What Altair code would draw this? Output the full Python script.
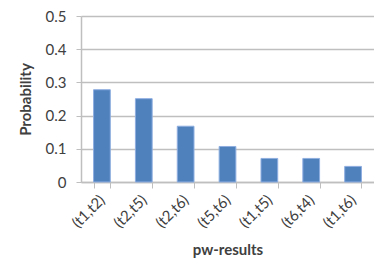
import altair as alt
import pandas as pd

categories = ["(t1,t2)", "(t2,t5)", "(t2,t6)", "(t5,t6)", "(t1,t5)", "(t6,t4)", "(t1,t6)"]
values = [0.278, 0.251, 0.168, 0.107, 0.071, 0.071, 0.047]

df = pd.DataFrame({"pair": categories, "prob": values})

FONT = "Lato"
TXT = "#404040"
GRID = "#bfbfbf"

chart = alt.Chart(df).mark_bar(
    color="#4f81bd", stroke="#8eaee0", strokeWidth=1
).encode(
    x=alt.X("pair:N", sort=categories,
            scale=alt.Scale(paddingInner=0.6, paddingOuter=0.3),
            axis=alt.Axis(title="pw-results", labelAngle=-45, labelAlign="right",
                          labelBaseline="middle", labelPadding=9, tickSize=6,
                          tickBand="extent", tickColor=GRID, domainColor=GRID,
                          domainWidth=1.5, labelFont=FONT, labelFontSize=15,
                          labelColor=TXT, titleFont=FONT, titleFontSize=15,
                          titleFontWeight="bold", titleColor=TXT, titlePadding=12)),
    y=alt.Y("prob:Q", scale=alt.Scale(domain=[0, 0.5]),
            axis=alt.Axis(title="Probability", values=[0, 0.1, 0.2, 0.3, 0.4, 0.5],
                          format="~g", tickSize=5, tickColor=GRID, domainColor=GRID,
                          domainWidth=1.5, gridColor=GRID, gridWidth=1.5,
                          labelFont=FONT, labelFontSize=15, labelColor=TXT,
                          labelPadding=10, titleFont=FONT, titleFontSize=15,
                          titleFontWeight="bold", titleColor=TXT, titlePadding=12)),
).properties(
    width=293, height=166,
    autosize=alt.AutoSizeParams(type="none"),
    padding={"left": 73, "top": 8, "right": 0, "bottom": 78},
).configure_view(stroke=None)

chart.save("out.html", embed_options={"renderer": "svg", "actions": False})
